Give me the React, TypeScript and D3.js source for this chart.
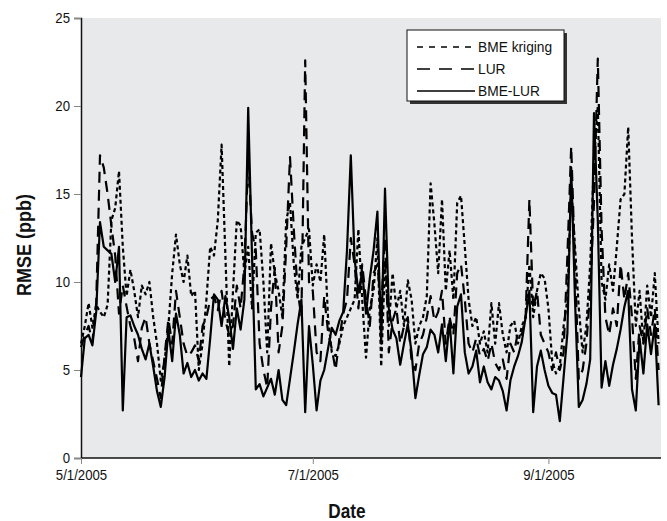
import React, { useEffect, useRef } from "react";
import * as d3 from "d3";

// daily RMSE (ppb), 5/1/2005 .. 9/30/2005
const startDate = new Date(2005, 4, 1);

const bmeKriging = [
	6.5, 7.5, 8.8, 7.4, 8.7, 8.3, 8.0, 8.7, 13.5, 14.2,
	16.3, 12.0, 9.2, 10.7, 9.5, 8.0, 9.8, 9.3, 10.0, 8.0,
	6.5, 4.4, 5.5, 7.5, 10.5, 12.7, 11.0, 10.0, 11.5, 9.2,
	9.5, 5.0, 6.5, 9.0, 12.0, 11.5, 13.5, 17.8, 11.5, 5.2,
	9.5, 13.5, 13.2, 10.5, 12.0, 8.5, 12.8, 13.0, 10.0, 6.0,
	12.2, 10.5, 9.5, 8.0, 13.5, 14.5, 11.0, 9.0, 12.0, 12.5,
	13.0, 9.8, 11.0, 10.0, 12.7, 8.0, 6.0, 5.8, 6.5, 7.5,
	8.0, 8.5, 9.0, 13.0, 9.0, 5.7, 8.5, 9.5, 12.5, 5.2,
	11.0, 7.5, 10.5, 8.5, 9.5, 7.5, 10.1, 9.0, 6.5, 7.5,
	8.0, 9.2, 15.6, 13.3, 10.5, 14.7, 9.5, 11.8, 9.0, 14.5,
	14.9, 12.0, 9.0, 7.5, 8.0, 6.5, 7.2, 6.0, 8.8, 6.5,
	8.8, 7.0, 6.0, 7.5, 7.8, 6.5, 7.5, 8.0, 11.0, 8.0,
	9.5, 10.5, 10.2, 8.5, 5.5, 4.8, 5.2, 7.5, 9.0, 15.5,
	12.0, 8.5, 6.0, 7.5, 11.0, 17.0, 20.0, 10.0, 9.0, 11.0,
	9.5, 12.0, 14.7, 15.0, 18.8, 12.5, 7.5, 9.5, 6.5, 9.8,
	8.0, 10.5, 6.5,
];

const lur = [
	6.3, 7.0, 7.5, 6.6, 8.8, 17.2, 16.5, 15.0, 13.2, 11.5,
	8.2, 9.8, 8.6, 7.5, 6.8, 5.5, 7.4, 8.0, 6.5, 5.5,
	4.5, 3.4, 5.8, 7.9, 6.5, 9.5, 8.0, 6.5, 5.8, 6.0,
	6.4, 5.5, 7.5, 8.0, 9.0, 9.2, 8.4, 9.5, 7.8, 7.0,
	7.5, 9.8, 8.5, 11.0, 17.0, 12.8, 11.8, 6.5, 5.0, 4.0,
	8.5, 10.8, 6.0, 7.5, 12.0, 17.1, 13.0, 9.5, 8.0, 22.6,
	10.0, 9.5, 6.0, 5.5, 9.2, 7.2, 6.2, 5.0, 6.8, 8.2,
	9.0, 12.5, 11.0, 8.5, 11.0, 9.0, 7.5, 10.5, 11.0, 8.5,
	12.5, 6.0, 7.8, 8.5, 6.5, 7.5, 8.0, 5.5, 5.0, 6.5,
	7.0, 8.0, 9.2, 7.8, 8.3, 9.5, 6.5, 8.0, 7.0, 10.5,
	11.0, 9.0, 6.5, 6.0, 6.8, 5.8, 6.2, 5.5, 6.5, 5.4,
	5.0, 5.6, 4.5, 6.5, 6.0, 7.2, 7.0, 8.0, 14.7, 8.5,
	9.5, 7.0, 6.5, 6.0, 5.0, 6.0, 5.0, 6.0, 11.5, 17.7,
	11.0, 4.5, 5.0, 6.5, 9.5, 14.5, 22.7, 13.0, 8.0, 7.0,
	8.5, 7.5, 11.0, 9.0, 10.5, 8.0, 4.5, 7.5, 6.5, 8.5,
	7.0, 8.5, 5.0,
];

const bmeLur = [
	4.6, 6.8, 7.0, 6.4, 8.3, 13.4, 12.0, 11.8, 11.6, 10.0,
	12.0, 2.7, 8.0, 8.1, 7.5, 7.0, 6.2, 5.6, 6.5, 5.2,
	3.8, 2.9, 4.6, 7.3, 5.5, 8.2, 7.0, 4.8, 5.4, 4.6,
	5.0, 4.4, 4.8, 4.5, 6.8, 9.3, 9.0, 7.5, 9.2, 8.0,
	6.2, 8.5, 7.3, 9.0, 19.9, 11.5, 3.9, 4.2, 3.5, 4.0,
	4.5, 3.6, 5.0, 3.3, 3.0, 4.5, 6.0, 7.6, 9.0, 2.6,
	7.5, 5.3, 2.7, 4.4, 5.0, 6.2, 7.4, 7.0, 7.8, 8.3,
	11.8, 17.2, 11.3, 9.4, 10.6, 8.2, 10.2, 11.8, 14.0, 6.5,
	15.3, 8.5, 7.3, 6.8, 5.3, 6.5, 7.6, 6.0, 3.4, 4.7,
	5.9, 6.3, 7.3, 7.0, 6.0, 7.6, 5.5, 7.8, 4.8, 8.6,
	9.3, 6.0, 4.8, 5.2, 6.1, 4.3, 5.2, 4.3, 3.9, 4.6,
	4.4, 3.8, 2.7, 4.4, 5.2, 5.8, 6.6, 8.0, 9.5, 2.6,
	5.2, 6.1, 5.0, 4.1, 3.7, 3.6, 2.1, 4.6, 7.1, 16.5,
	9.0, 2.9, 3.3, 4.2, 5.6, 19.6, 13.5, 4.0, 5.5, 4.1,
	5.3, 6.2, 7.3, 8.6, 9.5, 3.9, 2.7, 6.8, 4.8, 7.6,
	5.9, 7.6, 3.0,
];

const yTicks = [0, 5, 10, 15, 20, 25];
const xTickDates = [new Date(2005, 4, 1), new Date(2005, 6, 1), new Date(2005, 8, 1)];

const seriesNames = ["BME kriging", "LUR", "BME-LUR"];
const dashes = ["4,3", "11,7", null];
const legendDashes = ["6,6", "13,9", null];

const font = "'Liberation Sans', Arial, sans-serif";
const squeeze = 0.88; // narrow the glyphs, the original uses a condensed face

const App = () => {
	const svgRef = useRef(null);

	useEffect(() => {
		const svg = d3.select(svgRef.current);
		svg.selectAll("*").remove();

		const left = 81;
		const top = 18;
		const bottom = 458;
		const right = 661;

		const x = d3
			.scaleTime()
			.domain([startDate, d3.timeDay.offset(startDate, 152)])
			.range([left, left + 152 * 3.8]);
		const y = d3.scaleLinear().domain([0, 25]).range([bottom, top]);

		// plot background
		svg
			.append("rect")
			.attr("x", left)
			.attr("y", top)
			.attr("width", right - left)
			.attr("height", bottom - top)
			.attr("fill", "#e8e9ea");

		// y axis
		const yAxis = svg
			.append("g")
			.attr("transform", `translate(${left},0)`)
			.call(d3.axisLeft(y).tickValues(yTicks).tickSize(7));
		yAxis.select(".domain").attr("stroke", "#111").attr("stroke-width", 1.5);
		yAxis.selectAll(".tick line").attr("stroke", "#888");
		yAxis
			.selectAll("text")
			.attr("x", 0)
			.attr("transform", `translate(-11,0) scale(${squeeze},1)`)
			.style("font-family", font)
			.style("font-size", "15px")
			.attr("fill", "#111");

		// x axis
		const xAxis = svg
			.append("g")
			.attr("transform", `translate(0,${bottom})`)
			.call(
				d3
					.axisBottom(x)
					.tickValues(xTickDates)
					.tickFormat(d3.timeFormat("%-m/%-d/%Y"))
					.tickSize(6)
					.tickSizeOuter(0)
					.tickPadding(5)
			);
		xAxis
			.select(".domain")
			.attr("d", `M${left},0H${right}`)
			.attr("stroke", "#111")
			.attr("stroke-width", 1.5);
		xAxis.selectAll(".tick line").attr("stroke", "#888");
		xAxis
			.selectAll("text")
			.attr("transform", `scale(${squeeze},1)`)
			.style("font-family", font)
			.style("font-size", "15px")
			.attr("fill", "#111");

		// lines
		const line = d3
			.line()
			.x((d, i) => x(d3.timeDay.offset(startDate, i)))
			.y((d) => y(d));

		[bmeKriging, lur, bmeLur].forEach((values, k) => {
			svg
				.append("path")
				.datum(values)
				.attr("d", line)
				.attr("fill", "none")
				.attr("stroke", "#000")
				.attr("stroke-width", 2.2)
				.attr("stroke-linejoin", "round")
				.attr("stroke-dasharray", dashes[k]);
		});

		// legend
		const lg = svg.append("g").attr("transform", "translate(407,30)");
		lg.append("rect").attr("x", 3).attr("y", 3).attr("width", 157).attr("height", 71).attr("fill", "#333");
		lg.append("rect")
			.attr("width", 157)
			.attr("height", 71)
			.attr("fill", "#fff")
			.attr("stroke", "#111")
			.attr("stroke-width", 1);
		seriesNames.forEach((name, k) => {
			const ly = 17 + k * 22;
			lg.append("line")
				.attr("x1", 10)
				.attr("x2", 68)
				.attr("y1", ly)
				.attr("y2", ly)
				.attr("stroke", "#000")
				.attr("stroke-width", 1.6)
				.attr("stroke-dasharray", legendDashes[k]);
			lg.append("text")
				.attr("transform", `translate(71,${ly + 5}) scale(0.95,1)`)
				.style("font-family", font)
				.style("font-size", "14.5px")
				.attr("fill", "#111")
				.text(name);
		});

		// axis titles
		svg
			.append("text")
			.attr("transform", "translate(31,245) rotate(-90) scale(0.9,1)")
			.attr("text-anchor", "middle")
			.style("font-family", font)
			.style("font-size", "20px")
			.style("font-weight", "bold")
			.attr("fill", "#111")
			.text("RMSE (ppb)");

		svg
			.append("text")
			.attr("transform", "translate(347,518) scale(0.86,1)")
			.attr("text-anchor", "middle")
			.style("font-family", font)
			.style("font-size", "20px")
			.style("font-weight", "bold")
			.attr("fill", "#111")
			.text("Date");
	}, []);

	return (
		<svg
			ref={svgRef}
			width={667}
			height={521}
			style={{ position: "absolute", left: 0, top: 0, background: "#fff" }}
		></svg>
	);
};

export default App;
